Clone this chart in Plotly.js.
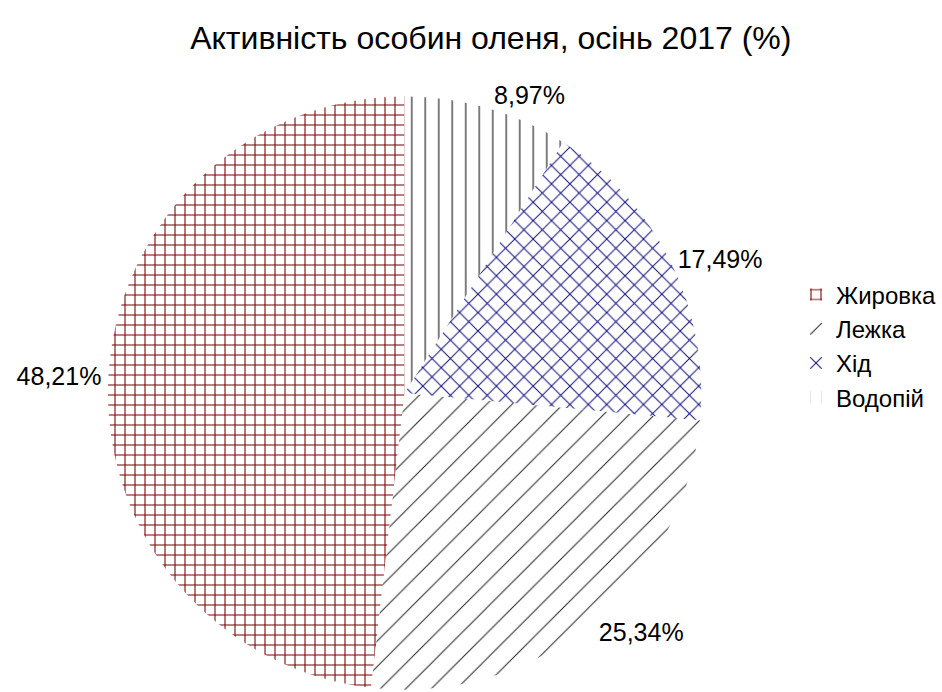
<!DOCTYPE html>
<html>
<head>
<meta charset="utf-8">
<script src="https://cdn.plot.ly/plotly-3.0.1.min.js"></script>
<style>html,body{margin:0;padding:0;background:#fff}</style>
</head>
<body>
<div id="chart" style="width:942px;height:692px"></div>
<script>
const categories = ["Жировка", "Лежка", "Хід", "Водопій"];
const values = [48.21, 25.34, 17.49, 8.97];
const valueLabels = ["48,21%", "25,34%", "17,49%", "8,97%"];
const patternShapes = ["+", "/", "x", "|"];
const patternColors = ["#7a0000", "#222222", "#10107f", "#111111"];
const patternSizes = [10, 18, 13, 13.5];
const patternSolidity = [0.2, 0.055, 0.15, 0.08];

const total = values.reduce((a, b) => a + b, 0);
// Plotly's counterclockwise mode places the first slice ending at the rotation angle;
// shift so the first slice starts at 12 o'clock going counterclockwise.
const startRotation = -360 * values[0] / total;

const trace = {
  type: "pie",
  labels: categories,
  values: values,
  text: valueLabels,
  textinfo: "text",
  textposition: "outside",
  sort: false,
  direction: "counterclockwise",
  rotation: startRotation,
  outsidetextfont: {family: "Liberation Sans, Arial, sans-serif", size: 25, color: "#000"},
  marker: {
    colors: ["#fff", "#fff", "#fff", "#fff"],
    line: {width: 0},
    pattern: {
      shape: patternShapes,
      fgcolor: patternColors,
      bgcolor: "#ffffff",
      size: patternSizes,
      solidity: patternSolidity,
      fillmode: "replace"
    }
  },
  domain: {x: [0.1147, 0.7452], y: [0.003, 0.861]},
  hoverinfo: "label+percent"
};

const layout = {
  width: 942,
  height: 692,
  margin: {l: 0, r: 0, t: 0, b: 0},
  paper_bgcolor: "#fff",
  separators: ", ",
  font: {family: "Liberation Sans, Arial, sans-serif", color: "#000"},
  title: {
    text: "Активність особин оленя, осінь 2017 (%)",
    font: {family: "Liberation Sans, Arial, sans-serif", size: 32, color: "#000"},
    x: 0.521, xanchor: "center", y: 0.945, yanchor: "middle"
  },
  showlegend: true,
  legend: {
    x: 0.846, y: 0.5, xanchor: "left", yanchor: "middle",
    font: {family: "Liberation Sans, Arial, sans-serif", size: 24, color: "#000"},
    itemwidth: 30
  }
};

Plotly.newPlot("chart", [trace], layout, {displayModeBar: false, staticPlot: true});
</script>
</body>
</html>
